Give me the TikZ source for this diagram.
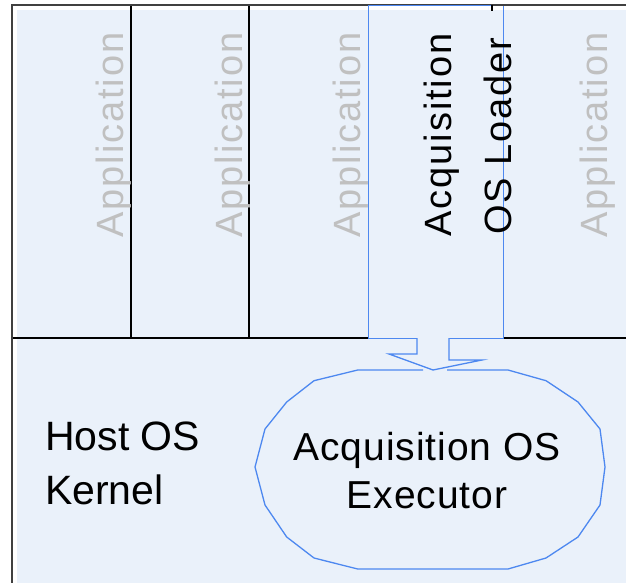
\documentclass[tikz,border=0pt]{standalone}
\usepackage{fontspec}
\setmainfont{Liberation Sans}
\newfontfamily\spacedfont[LetterSpace=5]{Liberation Sans}
\newfontfamily\slightfont[LetterSpace=2.5]{Liberation Sans}
\definecolor{bg}{RGB}{234,241,250}
\definecolor{lineblue}{RGB}{77,136,240}
\definecolor{appgray}{RGB}{192,192,192}
\definecolor{framegray}{RGB}{64,64,64}
\begin{document}
\begin{tikzpicture}[x=1pt,y=-1pt,
  apptext/.style={rotate=90,anchor=base,inner sep=0pt,text=appgray,
    font=\spacedfont\fontsize{38}{44}\selectfont},
  loadertext/.style={rotate=90,anchor=base,inner sep=0pt,text=black,
    font=\spacedfont\fontsize{38}{44}\selectfont},
  bigtext/.style={inner sep=0pt,text=black,font=\slightfont\fontsize{39}{46}\selectfont},
  hosttext/.style={inner sep=0pt,anchor=base west,text=black,font=\fontsize{41}{47}\selectfont},
  blueline/.style={draw=lineblue,line width=1.3pt,line join=miter},
  colline/.style={draw=black,line width=1.2pt},
  frameline/.style={draw=framegray,line width=2pt}
]
\useasboundingbox (0,0) rectangle (626,583);
% background
\fill[bg] (17,10) rectangle (626,583);
% column separators
\draw[colline] (131,5) -- (131,338);
\draw[colline] (249,5) -- (249,338);
% horizontal separator
\draw[colline] (12,338) -- (626,338);
% outer frame
\draw[frameline] (12,583) -- (12,5) -- (626,5);
% loader box
\fill[bg] (368,10) rectangle (503,338);
\node (loader) [blueline,inner sep=0pt,minimum width=135pt,minimum height=333pt,anchor=north west] at (368,5) {};
\draw[frameline] (492,5) -- (626,5);
\draw[colline] (492,5) -- (492,11);
% application labels
\node (app1) [apptext] at (123,135) {Application};
\node (app2) [apptext] at (242,135) {Application};
\node (app3) [apptext] at (360,135) {Application};
\node (app5) [apptext] at (607,135) {Application};
% loader labels
\node (loaderA) [loadertext] at (451,135) {Acquisition};
\node (loaderB) [loadertext] at (511,136) {OS Loader};
% executor outline
\coordinate (executor) at (430,469.5);
\draw[blueline] (423,370) -- (357.7,370) -- (314,380.7) -- (286.7,402) -- (265,429) -- (255,467)
  -- (265,505) -- (286.7,537) -- (314,558) -- (357.7,569) -- (508,569) -- (546,558)
  -- (578,537) -- (600,505) -- (605,467) -- (600,429) -- (578,402) -- (546,380.7)
  -- (508,370) -- (447,370);
% block arrow from loader to executor
\draw[blueline,fill=bg] (417,338) -- (417,354) -- (389,354) -- (433,370) -- (482,360) -- (449,360) -- (449,338);
% texts
\node (execA) [bigtext,anchor=base] at (427,460) {Acquisition OS};
\node (execB) [bigtext,anchor=base] at (427,508) {Executor};
\node (hostA) [hosttext] at (45,450) {Host OS};
\node (hostB) [hosttext] at (45,504) {Kernel};
\end{tikzpicture}
\end{document}
